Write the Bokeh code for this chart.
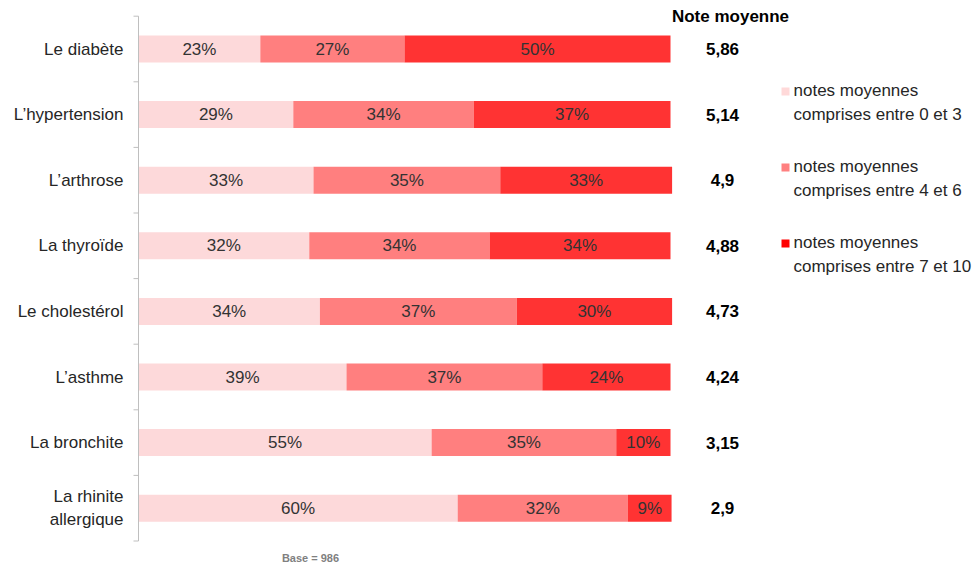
from bokeh.plotting import figure
from bokeh.models import Range1d, ColumnDataSource
from bokeh.core.properties import value
from bokeh.embed import file_html
from bokeh.resources import INLINE

categories = ["Le diabète", "L\u2019hypertension", "L\u2019arthrose", "La thyroïde",
              "Le cholestérol", "L\u2019asthme", "La bronchite", "La rhinite\nallergique"]
# displayed (rounded) percentages
low = [23, 29, 33, 32, 34, 39, 55, 60]
mid = [27, 34, 35, 34, 37, 37, 35, 32]
high = [50, 37, 33, 34, 30, 24, 10, 9]
# estimated unrounded shares (bar lengths)
low_share = [22.9, 29.1, 32.9, 32.1, 34.1, 39.1, 55.1, 60.0]
mid_share = [27.1, 33.9, 35.1, 33.9, 37.0, 36.8, 34.7, 32.0]
high_share = [50.0, 37.0, 32.3, 34.0, 29.2, 24.1, 10.2, 8.2]
averages = ["5,86", "5,14", "4,9", "4,88", "4,73", "4,24", "3,15", "2,9"]
series_labels = ["notes moyennes\ncomprises entre 0 et 3",
                 "notes moyennes\ncomprises entre 4 et 6",
                 "notes moyennes\ncomprises entre 7 et 10"]
colors = ["#FDD9DA", "#FF7F7F", "#FF3333"]
legend_colors = ["#FFD9D9", "#FF8080", "#FF0000"]

W, H = 975, 564
x0_px, px_per_unit = 138, 5.32
y0_px, px_per_row = 48.5, 65.6

def xd(px):
    return (px - x0_px) / px_per_unit

def yd(py):
    return (py - y0_px) / px_per_row

p = figure(width=W, height=H, output_backend="svg", toolbar_location=None,
           x_range=Range1d(xd(0), xd(W)), y_range=Range1d(yd(H), yd(0)),
           x_axis_location=None, y_axis_location=None, min_border=0,
           outline_line_color=None, background_fill_color="white")
p.xgrid.visible = False
p.ygrid.visible = False

FONT = value("Liberation Sans")
n = len(categories)
ys = list(range(n))
r1 = low_share
r2 = [a + b for a, b in zip(low_share, mid_share)]
r3 = [a + b + c for a, b, c in zip(low_share, mid_share, high_share)]
bh = 27 / px_per_row

src = ColumnDataSource(dict(y=ys, l1=[0] * n, r1=r1, r2=r2, r3=r3))
p.hbar(y="y", left="l1", right="r1", height=bh, source=src, fill_color=colors[0], line_color=None)
p.hbar(y="y", left="r1", right="r2", height=bh, source=src, fill_color=colors[1], line_color=None)
p.hbar(y="y", left="r2", right="r3", height=bh, source=src, fill_color=colors[2], line_color=None)

# percent labels
lx, ly, lt = [], [], []
for i in range(n):
    segs = [(0, r1[i], low[i]), (r1[i], r2[i], mid[i]), (r2[i], r3[i], high[i])]
    for a, b, v in segs:
        lx.append((a + b) / 2)
        ly.append(i)
        lt.append(f"{v}%")
p.text(x=lx, y=ly, text=lt, text_align="center", text_baseline="middle",
       text_font=FONT, text_font_size="17px", text_color="#333333")

# axis line and ticks
p.segment(x0=[0], y0=[-0.5], x1=[0], y1=[n - 0.5], line_color="#BFBFBF", line_width=1)
tick_y = [k - 0.5 for k in range(n + 1)]
p.segment(x0=[xd(133)] * len(tick_y), y0=tick_y, x1=[0] * len(tick_y), y1=tick_y,
          line_color="#BFBFBF", line_width=1)

# category labels
p.text(x=[xd(123)] * n, y=ys, text=categories, text_align="right", text_baseline="middle",
       text_font=FONT, text_font_size="17px", text_color="#262626",
       text_line_height=1.18)

# averages
p.text(x=[xd(722)] * n, y=ys, text=averages, text_align="center", text_baseline="middle",
       text_font=FONT, text_font_size="17px", text_font_style="bold", text_color="#000000")
p.text(x=[xd(730)], y=[yd(16)], text=["Note moyenne"], text_align="center", text_baseline="middle",
       text_font=FONT, text_font_size="17px", text_font_style="bold", text_color="#000000")

# legend
leg_y = [yd(102), yd(178), yd(254)]
sq_y = [yd(91), yd(167), yd(243)]
p.rect(x=[xd(785)] * 3, y=sq_y, width=8 / px_per_unit, height=8 / px_per_row,
       fill_color=legend_colors, line_color=None)
p.text(x=[xd(793)] * 3, y=leg_y, text=series_labels, text_align="left", text_baseline="middle",
       text_font=FONT, text_font_size="17px", text_color="#262626",
       text_line_height=1.3)

# base note
p.text(x=[xd(310)], y=[yd(557)], text=["Base = 986"], text_align="center", text_baseline="middle",
       text_font=FONT, text_font_size="11px", text_font_style="bold", text_color="#808080")

open("out.html", "w").write(file_html(p, INLINE))
